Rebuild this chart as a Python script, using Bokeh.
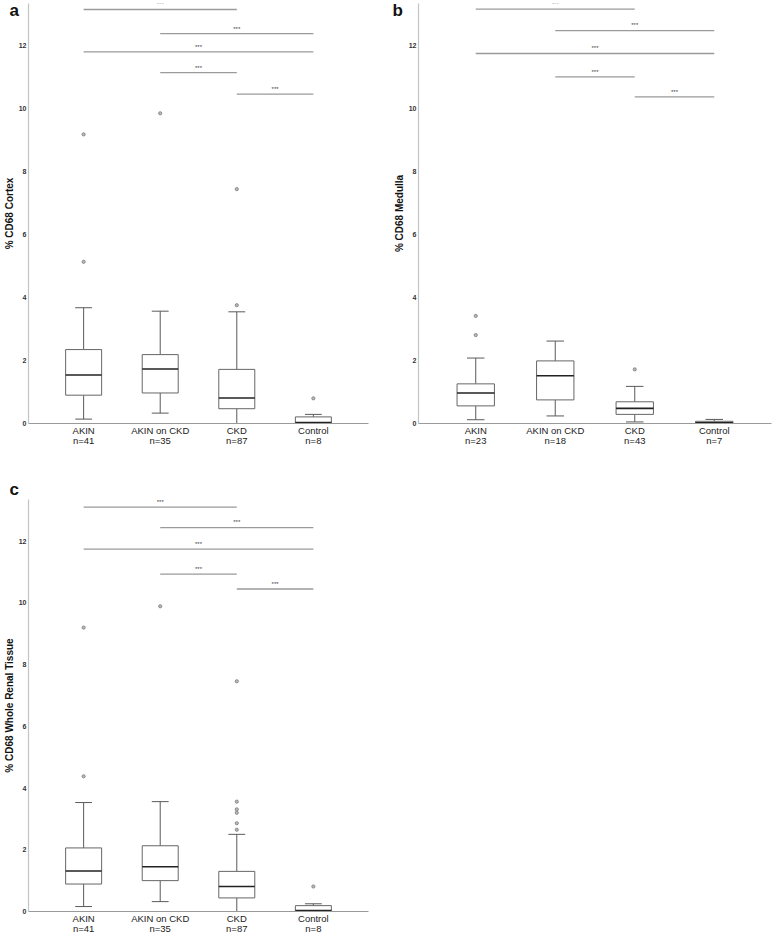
from bokeh.plotting import figure
from bokeh.layouts import column, row
from bokeh.models import Range1d, FixedTicker, Title
from bokeh.embed import file_html
from bokeh.resources import INLINE

groups = ["AKIN", "AKIN on CKD", "CKD", "Control"]
n_a = [41, 35, 87, 8]
n_b = [23, 18, 43, 7]
n_c = [41, 35, 87, 8]

# Panel a: % CD68 Cortex
a_lo = [0.14, 0.33, 0.0, 0.0]
a_q1 = [0.90, 0.97, 0.47, 0.01]
a_med = [1.54, 1.73, 0.81, 0.03]
a_q3 = [2.35, 2.19, 1.72, 0.21]
a_hi = [3.68, 3.57, 3.55, 0.29]
a_out_grp = [0, 0, 1, 2, 2, 3]
a_out_val = [5.14, 9.19, 9.86, 3.76, 7.45, 0.80]

# Panel b: % CD68 Medulla
b_lo = [0.12, 0.24, 0.05, 0.0]
b_q1 = [0.56, 0.75, 0.29, 0.0]
b_med = [0.97, 1.52, 0.48, 0.02]
b_q3 = [1.26, 1.99, 0.69, 0.07]
b_hi = [2.08, 2.62, 1.18, 0.13]
b_out_grp = [0, 0, 2]
b_out_val = [2.81, 3.42, 1.72]

# Panel c: % CD68 Whole Renal Tissue
c_lo = [0.16, 0.32, 0.0, 0.0]
c_q1 = [0.89, 1.00, 0.44, 0.02]
c_med = [1.31, 1.45, 0.81, 0.03]
c_q3 = [2.06, 2.13, 1.30, 0.19]
c_hi = [3.53, 3.56, 2.50, 0.25]
c_out_grp = [0, 0, 1, 2, 2, 2, 2, 2, 2, 3]
c_out_val = [4.38, 9.20, 9.89, 2.65, 2.86, 3.20, 3.31, 3.56, 7.46, 0.81]

# significance brackets (group index from -> to, height)
sig_from = [0, 1, 0, 1, 2]
sig_to = [2, 3, 3, 2, 3]
sig_text = ["***", "***", "***", "***", "***"]
a_sig_y = [13.16, 12.39, 11.81, 11.15, 10.47]
b_sig_y = [13.17, 12.49, 11.76, 11.02, 10.38]
c_sig_y = [13.10, 12.44, 11.74, 10.93, 10.45]

y_ticks = [0, 2, 4, 6, 8, 10, 12]

FONT = "Liberation Sans"


def panel(letter, ylabel, ns, lo, q1, med, q3, hi, og, ov, sy,
          width, height, bl, br, bt, bb, loff, lstand):
    p = figure(width=width, height=height,
               x_range=Range1d(-0.72, 3.72), y_range=Range1d(0, 13.35),
               output_backend="svg", toolbar_location=None,
               min_border_left=bl, min_border_right=br,
               min_border_top=bt, min_border_bottom=bb)
    p.grid.visible = False
    p.outline_line_color = None
    p.background_fill_color = "white"
    p.border_fill_color = "white"

    xs = list(range(len(groups)))
    hw = 0.235
    cw = 0.11
    wcol = "#5a5a5a"
    # whiskers
    p.segment(xs, lo, xs, q1, line_color=wcol, line_width=1)
    p.segment(xs, q3, xs, hi, line_color=wcol, line_width=1)
    p.segment([x - cw for x in xs], lo, [x + cw for x in xs], lo, line_color=wcol, line_width=1)
    p.segment([x - cw for x in xs], hi, [x + cw for x in xs], hi, line_color=wcol, line_width=1)
    # boxes
    p.quad(left=[x - hw for x in xs], right=[x + hw for x in xs], bottom=q1, top=q3,
           fill_color="white", line_color="#666666", line_width=1)
    # medians
    p.segment([x - hw for x in xs], med, [x + hw for x in xs], med,
              line_color="#222222", line_width=1.6)
    # outliers
    p.scatter(og, ov, marker="circle", size=3.2, fill_color="#bbbbbb",
              line_color="#777777", line_width=0.8)
    # significance brackets
    p.segment(sig_from, sy, sig_to, sy, line_color="#9a9a9a", line_width=1.3)
    p.text(x=[(f + t) / 2 for f, t in zip(sig_from, sig_to)], y=[v + 0.07 for v in sy],
           text=sig_text, text_font_size="6px", text_align="center",
           text_baseline="bottom", text_color="#444444")

    p.xaxis.ticker = FixedTicker(ticks=xs)
    p.xaxis.major_label_overrides = {i: f"{g}\nn={n}" for i, (g, n) in enumerate(zip(groups, ns))}
    p.xaxis.major_label_text_font = FONT
    p.xaxis.major_label_text_font_size = "9.5px"
    p.xaxis.major_label_text_line_height = 0.95
    p.xaxis.major_label_text_color = "#222222"
    p.xaxis.major_label_standoff = 1
    p.xaxis.major_tick_line_color = None
    p.xaxis.major_tick_out = 0
    p.xaxis.major_tick_in = 0
    p.xaxis.minor_tick_line_color = None
    p.xaxis.minor_tick_out = 0
    p.xaxis.axis_line_color = "#9a9a9a"
    p.xaxis.axis_line_width = 1.2

    p.yaxis.ticker = FixedTicker(ticks=y_ticks)
    p.yaxis.major_label_text_font = FONT
    p.yaxis.major_label_text_font_size = "7px"
    p.yaxis.major_label_text_font_style = "bold"
    p.yaxis.major_label_text_color = "#333333"
    p.yaxis.major_label_standoff = 2
    p.yaxis.major_tick_line_color = None
    p.yaxis.major_tick_out = 0
    p.yaxis.major_tick_in = 0
    p.yaxis.minor_tick_line_color = None
    p.yaxis.minor_tick_out = 0
    p.yaxis.axis_line_color = "#c4c4c4"
    p.yaxis.axis_line_width = 1.2
    p.yaxis.axis_label = ylabel
    p.yaxis.axis_label_text_font = FONT
    p.yaxis.axis_label_text_font_size = "10px"
    p.yaxis.axis_label_text_font_style = "bold"
    p.yaxis.axis_label_text_color = "#111111"
    p.yaxis.axis_label_standoff = 1

    p.add_layout(Title(text=letter, align="left", offset=loff, standoff=lstand,
                       text_font=FONT, text_font_size="17px", text_font_style="bold",
                       text_color="#111111"), "above")
    return p


pa = panel("a", "% CD68 Cortex", n_a, a_lo, a_q1, a_med, a_q3, a_hi,
           a_out_grp, a_out_val, a_sig_y, 390, 460, 27, 22, 3, 37, -19, -33)
pb = panel("b", "% CD68 Medulla", n_b, b_lo, b_q1, b_med, b_q3, b_hi,
           b_out_grp, b_out_val, b_sig_y, 384, 460, 25, 3, 3, 37, -26, -33)
pc = panel("c", "% CD68 Whole Renal Tissue", n_c, c_lo, c_q1, c_med, c_q3, c_hi,
           c_out_grp, c_out_val, c_sig_y, 390, 476, 27, 22, 39, 22, -19, 1)

layout = column(row(pa, pb), pc)
open("out.html", "w").write(file_html(layout, INLINE))
